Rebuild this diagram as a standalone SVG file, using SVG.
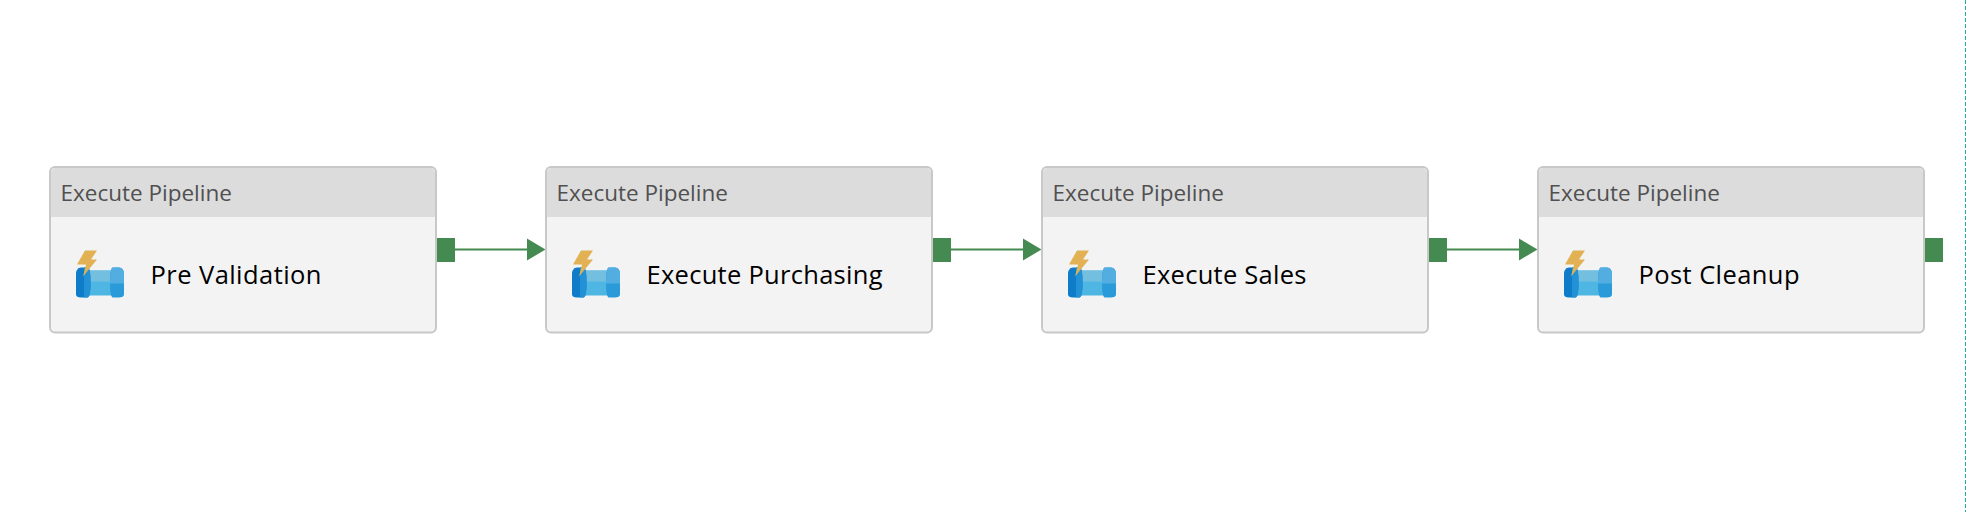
<svg xmlns="http://www.w3.org/2000/svg" width="1966" height="512" viewBox="0 0 1966 512">
<style>
.box{fill:#f3f3f3;stroke:#c8c8c8;stroke-width:2}
.hdr{fill:#dcdcdc}
.type{font:22.500px "Open Sans","Liberation Sans",sans-serif;fill:#505050}
.name{font:25.500px "Open Sans","Liberation Sans",sans-serif;fill:#000}
.port{fill:#458a51}
.link{stroke:#458a51;stroke-width:2;fill:none}
</style>
<defs>
<g id="icon">
<path d="M11 20H36V45H11z" fill="#4fb6e3"/>
<path d="M11 20H36V31H11z" fill="#72bfe0"/>
<path d="M5 17h6c2.500 0 3.500 4 3.500 15s-1 15-3.500 15H5c-3 0-5-1-5-3V23c0-3 2-6 5-6z" fill="#0f7cc9"/>
<path d="M8 17h3c2.500 0 3.500 4 3.500 15s-1 15-3.500 15H8z" fill="#2391d6"/>
<path d="M37 17h6c3 0 5 3 5 6V44c0 2-2 3-5 3H37c-2 0-3-5-3-15s1-15 3-15z" fill="#2a9ad9"/>
<path d="M37 17h6c3 0 5 3 5 6V33H34c0-10 1-16 3-16z" fill="#52ade0"/>
<path d="M9 0H21L15 9H21L7 26L10 14H1z" fill="#e2b154"/>
</g>
</defs>
<g id="connectors">
<rect class="port" x="437" y="238" width="18" height="24"/>
<path class="link" d="M455 249.500H528"/><path class="port" d="M527 238.500L545.500 249.500L527 260.500z"/>
<rect class="port" x="933" y="238" width="18" height="24"/>
<path class="link" d="M951 249.500H1024"/><path class="port" d="M1023 238.500L1041.500 249.500L1023 260.500z"/>
<rect class="port" x="1429" y="238" width="18" height="24"/>
<path class="link" d="M1447 249.500H1520"/><path class="port" d="M1519 238.500L1537.500 249.500L1519 260.500z"/>
<rect class="port" x="1925" y="238" width="18" height="24"/>
</g>
<g id="node-pre-validation" transform="translate(50,167)">
<rect class="box" width="386" height="165.500" rx="5"/><path class="hdr" d="M1 50V6a5 5 0 0 1 5-5H380a5 5 0 0 1 5 5V50z"/>
<text class="type" x="10.500" y="34">Execute Pipeline</text>
<use href="#icon" x="26" y="83.500"/>
<text class="name" x="100.500" y="117" textLength="171">Pre Validation</text>
</g>
<g id="node-execute-purchasing" transform="translate(546,167)">
<rect class="box" width="386" height="165.500" rx="5"/><path class="hdr" d="M1 50V6a5 5 0 0 1 5-5H380a5 5 0 0 1 5 5V50z"/>
<text class="type" x="10.500" y="34">Execute Pipeline</text>
<use href="#icon" x="26" y="83.500"/>
<text class="name" x="100.500" y="117" textLength="236">Execute Purchasing</text>
</g>
<g id="node-execute-sales" transform="translate(1042,167)">
<rect class="box" width="386" height="165.500" rx="5"/><path class="hdr" d="M1 50V6a5 5 0 0 1 5-5H380a5 5 0 0 1 5 5V50z"/>
<text class="type" x="10.500" y="34">Execute Pipeline</text>
<use href="#icon" x="26" y="83.500"/>
<text class="name" x="100.500" y="117" textLength="164">Execute Sales</text>
</g>
<g id="node-post-cleanup" transform="translate(1538,167)">
<rect class="box" width="386" height="165.500" rx="5"/><path class="hdr" d="M1 50V6a5 5 0 0 1 5-5H380a5 5 0 0 1 5 5V50z"/>
<text class="type" x="10.500" y="34">Execute Pipeline</text>
<use href="#icon" x="26" y="83.500"/>
<text class="name" x="100.500" y="117" textLength="161">Post Cleanup</text>
</g>
<path d="M1965.500 0V512" stroke="#20b0a0" stroke-width="1" stroke-dasharray="4 2" fill="none"/>
</svg>
